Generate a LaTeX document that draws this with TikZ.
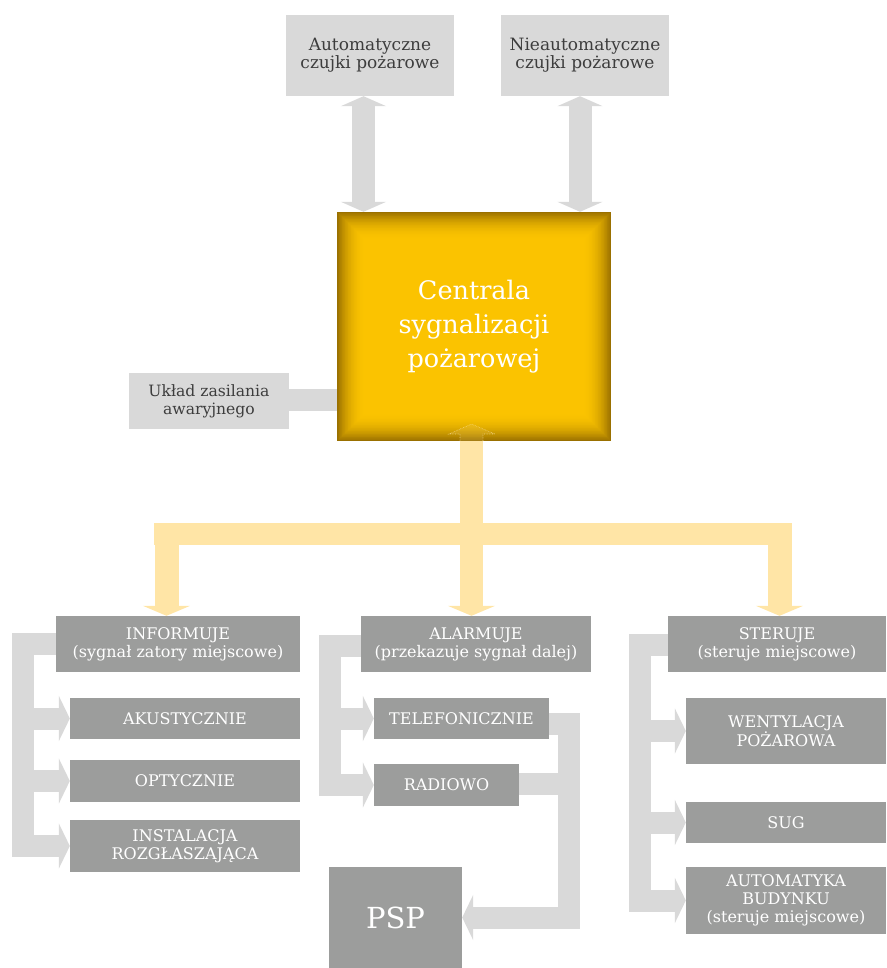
\documentclass[tikz,border=0pt]{standalone}
\usepackage{fontspec}
\setmainfont{DejaVu Serif}
\usetikzlibrary{arrows.meta,calc}
\definecolor{lgray}{HTML}{D9D9D9}
\definecolor{dgray}{HTML}{9C9D9C}
\definecolor{ylw}{HTML}{FFE5A6}
\definecolor{gold}{HTML}{FBC300}
\definecolor{dgold}{HTML}{9A7000}
\definecolor{txt}{HTML}{3D3D3D}
\begin{document}
\begin{tikzpicture}[x=1pt,y=-1pt,
 lbox/.style={fill=lgray, text=txt, align=center, inner sep=0pt, font=\fontsize{17}{18}\selectfont},
 dbox/.style={fill=dgray, text=white, align=center, inner sep=0pt, font=\fontsize{16}{18}\selectfont},
 gline/.style={draw=lgray, line width=22pt, line join=miter},
 garrow/.style={gline, -{Triangle[width=45pt,length=11pt]}},
 gdbl/.style={draw=lgray, line width=23pt, {Triangle[width=45pt,length=10pt]}-{Triangle[width=45pt,length=10pt]}},
 yarrow/.style={draw=ylw, line width=24pt, -{Triangle[width=47pt,length=10pt]}},
]
\useasboundingbox (0,0) rectangle (886,968);

% central box vignette (soft inner shadow)
\foreach \i in {0,...,39}{
  \pgfmathsetmacro\p{100*(1-(1-\i/39)^2.2)}
  \fill[gold!\p!dgold] (337+0.75*\i,212+0.75*\i) rectangle (611-0.75*\i,441-0.75*\i);
}
\node[text=white, align=center, minimum width=274pt, minimum height=229pt, inner sep=0pt,
      font=\fontsize{25.5}{34}\selectfont] (central) at (474,326.5) {Centrala\\sygnalizacji\\pożarowej};

% top boxes
\node[lbox, minimum width=168pt, minimum height=81pt] (auto) at (370,55.5) {Automatyczne\\czujki pożarowe};
\node[lbox, minimum width=168pt, minimum height=81pt] (nauto) at (585,55.5) {Nieautomatyczne\\czujki pożarowe};
\draw[gdbl] ([xshift=-6.5pt]auto.south) -- ([xshift=-6.5pt]auto.south |- central.north);
\draw[gdbl] ([xshift=-5pt]nauto.south) -- ([xshift=-5pt]nauto.south |- central.north);

% power supply
\node[lbox, minimum width=160pt, minimum height=56pt, font=\fontsize{15.6}{18}\selectfont] (uklad) at (209,401) {Układ zasilania\\awaryjnego};
\draw[gline] ([yshift=1pt]uklad.east) -- ([yshift=1pt]uklad.east -| central.west);

% bottom boxes
\node[dbox, minimum width=244pt, minimum height=56pt] (info) at (178,644) {INFORMUJE\\(sygnał zatory miejscowe)};
\node[dbox, minimum width=230pt, minimum height=41pt] (akus) at (185,718.5) {AKUSTYCZNIE};
\node[dbox, minimum width=230pt, minimum height=42pt] (opty) at (185,781) {OPTYCZNIE};
\node[dbox, minimum width=230pt, minimum height=52pt] (inst) at (185,846) {INSTALACJA\\ROZGŁASZAJĄCA};

\node[dbox, minimum width=230pt, minimum height=56pt] (alarm) at (476,644) {ALARMUJE\\(przekazuje sygnał dalej)};
\node[dbox, minimum width=175pt, minimum height=41pt] (tel) at (461.5,718.5) {TELEFONICZNIE};
\node[dbox, minimum width=145pt, minimum height=42pt] (radio) at (446.5,785) {RADIOWO};
\node[dbox, minimum width=133pt, minimum height=101pt, font=\fontsize{29}{30}\selectfont] (psp) at (395.5,917.5) {PSP};

\node[dbox, minimum width=218pt, minimum height=56pt] (ster) at (777,644) {STERUJE\\(steruje miejscowe)};
\node[dbox, minimum width=200pt, minimum height=66pt] (went) at (786,731) {WENTYLACJA\\POŻAROWA};
\node[dbox, minimum width=200pt, minimum height=41pt] (sug) at (786,822.5) {SUG};
\node[dbox, minimum width=200pt, minimum height=67pt] (autb) at (786,900.5) {AUTOMATYKA\\BUDYNKU\\(steruje miejscowe)};

% yellow distribution
\coordinate (yl) at (166.5,534);
\coordinate (yr) at (779.5,534);
\fill[ylw] (154,523) rectangle (792,545);
\draw[yarrow] (yl) -- (yl |- info.north);
\draw[yarrow] (yr) -- (yr |- ster.north);
\draw[yarrow, line width=23pt] ([xshift=-2.5pt]central.south) -- ([xshift=-2.5pt]central.south |- alarm.north);
\draw[draw=ylw, line width=0.6pt, fill=ylw, fill opacity=0.12, draw opacity=0.7, densely dotted]
  (460,441) -- (460,434) -- (449,434) -- (471.5,424) -- (495,434) -- (483,434) -- (483,441);

% left bracket
\coordinate (lb) at (23,0);
\draw[garrow] (info.west) -| (lb |- inst.west) -- (inst.west);
\draw[garrow] (lb |- akus.west) -- (akus.west);
\draw[garrow] (lb |- opty.west) -- (opty.west);

% middle bracket
\coordinate (mb) at (330,0);
\draw[garrow] ([yshift=-2pt]alarm.west) -| (mb |- radio.west) -- (radio.west);
\draw[garrow] (mb |- tel.west) -- (tel.west);

% to PSP
\coordinate (rb) at (568.5,0);
\draw[garrow] ([yshift=-5pt]tel.east) -| (rb |- psp.east) -- (psp.east);
\draw[gline] ([yshift=1.5pt]radio.east) -- ([yshift=1.5pt]rb |- radio.east);

% right bracket
\coordinate (sb) at (640,0);
\draw[garrow] ([yshift=-1pt]ster.west) -| (sb |- autb.west) -- (autb.west);
\draw[garrow] (sb |- went.west) -- (went.west);
\draw[garrow] (sb |- sug.west) -- (sug.west);
\end{tikzpicture}
\end{document}
